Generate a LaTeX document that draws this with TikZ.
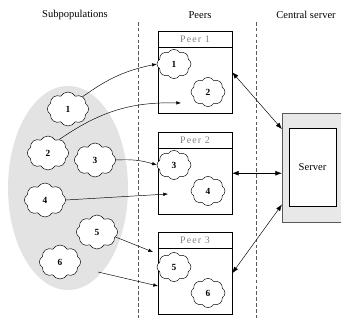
\documentclass[tikz,border=0pt]{standalone}
\usepackage{fontspec}
\setmainfont{Liberation Serif}
\newfontfamily\headfont[LetterSpace=12]{Liberation Serif}
\usetikzlibrary{shapes.symbols,arrows.meta,positioning}

\tikzset{
  subcloud/.style={cloud, cloud puffs=8, cloud puff arc=120, cloud ignores aspect,
    draw, thin, fill=white, inner sep=0pt, minimum width=1.24cm, minimum height=1.02cm,
    font=\fontsize{8}{9}\selectfont\bfseries},
  peercloud/.style={subcloud, minimum width=1.02cm, minimum height=0.88cm},
  peerbox/.style={draw, thin, minimum width=2.22cm, minimum height=2.46cm, inner sep=0pt},
  peerhead/.style={draw, thin, minimum width=2.22cm, minimum height=0.48cm, inner sep=0pt,
    text=gray, font=\fontsize{8.5}{9}\headfont},
  coltitle/.style={font=\fontsize{9}{10}\selectfont},
  migr/.style={thin, -{Latex[length=4pt,width=3pt]}},
  link/.style={thin, {Latex[length=5.5pt,width=4pt]}-{Latex[length=5.5pt,width=4pt]}},
}

\begin{document}
\begin{tikzpicture}[x=0.03cm,y=-0.03cm]
      \useasboundingbox (0,0) rectangle (341,320);

      %标题
      \node[coltitle] (tsub) at (75,15) {Subpopulations};
      \node[coltitle] (tpeer) at (200,15) {Peers};
      \node[coltitle] (tsrv) at (306,15) {Central server};

      %分隔虚线
      \draw[dashed, gray!70!black, dash pattern=on 3pt off 2pt] (138,22) -- (138,320);
      \draw[dashed, gray!70!black, dash pattern=on 3pt off 2pt] (256,22) -- (256,320);

      %子种群
      \fill[gray!22] (68,188) ellipse [x radius=60, y radius=102];
      \foreach \n/\x/\y in {1/68/109, 2/48/153, 3/95/160, 4/45/200, 5/97/232, 6/60/262}  {
      	\node[subcloud] (s\n) at (\x,\y) {\n};
      }

      %节点
      \foreach \i/\y in {1/31, 2/132, 3/232}  {
      	\node[peerbox, anchor=north] (p\i) at (195,\y) {};
      	\node[peerhead, anchor=north] (h\i) at (p\i.north) {Peer \i};
      }
      \foreach \n/\x/\y in {1/174/64, 2/208/92, 3/174/165, 4/208/191, 5/174/267, 6/208/293}  {
      	\node[peercloud] (c\n) at (\x,\y) {\n};
      }

      %服务器
      \node[draw=gray!70!black, fill=gray!18, minimum width=1.85cm, minimum height=3.27cm,
        inner sep=0pt] (srv) at (313,167.5) {};
      \node[draw, thin, fill=white, minimum width=1.41cm, minimum height=2.34cm, inner sep=0pt,
        coltitle] (srvin) at (312.5,167) {Server};

      %迁移
      \coordinate (t2) at (181,103);
      \coordinate (t4) at (168,194);
      \coordinate (t5) at (153,252);
      \coordinate (e6) at (98,272);
      \coordinate (t6) at (158,286);
      \draw[migr] (s1.40) to[bend left=12] (c1.west);
      \draw[migr] (s2.50) to[bend left=18] (t2);
      \draw[migr] (s3.east) to[bend left=10] (c3.west);
      \draw[migr] (s4.east) -- (t4);
      \draw[migr] (s5.-15) -- (t5);
      \draw[migr] (e6) -- (t6);

      %通信
      \draw[link] (p1.east) -- (srv.129);
      \draw[link] (p2.east) -- (p2.east -| srv.west);
      \draw[link] (p3.east) -- (srv.230);

\end{tikzpicture}
\end{document}
